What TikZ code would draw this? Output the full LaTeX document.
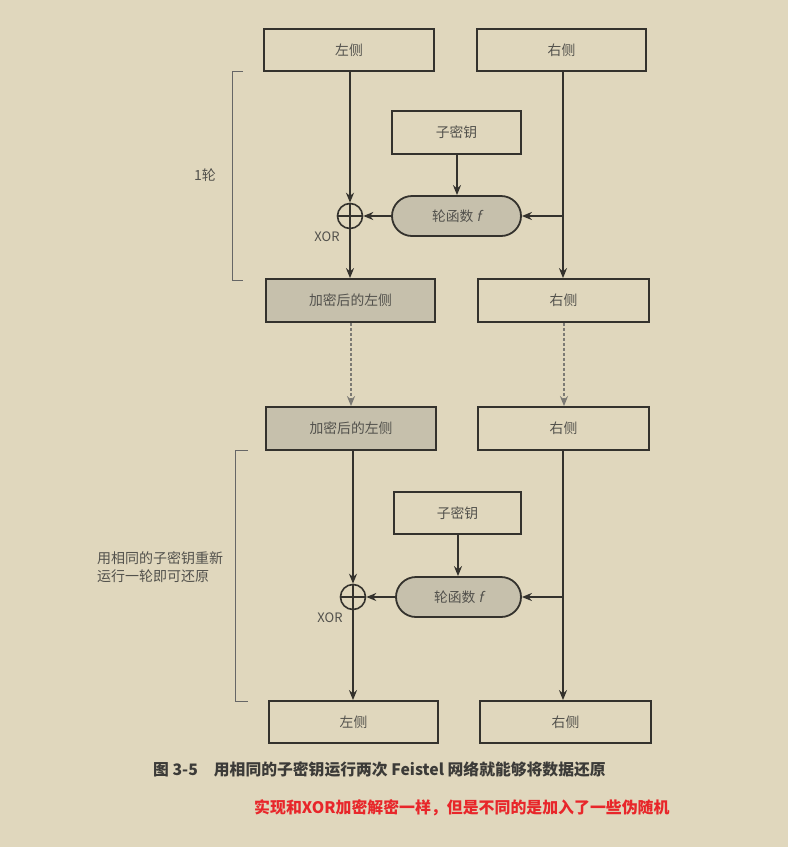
\documentclass[tikz,border=0pt]{standalone}
\usepackage{fontspec}
\setmainfont{Noto Sans CJK SC}
\newfontfamily\slantfont[FakeSlant=0.2]{Noto Sans CJK SC}
\usetikzlibrary{arrows.meta}
\definecolor{paper}{HTML}{E0D7BD}
\definecolor{ink}{HTML}{34322D}
\definecolor{shade}{HTML}{C6C0AC}
\definecolor{dashgray}{HTML}{7C7A74}
\definecolor{capgray}{HTML}{3C3B38}
\definecolor{notered}{HTML}{E8262A}
\tikzset{
  box/.style={draw=ink, line width=1.8pt, minimum height=42pt, inner sep=0pt,
    font=\fontsize{13.8}{16}\selectfont, text=ink!85},
  shadebox/.style={box, fill=shade},
  roundfn/.style={box, fill=shade, rounded corners=20pt, minimum height=40pt},
  xorc/.style={circle, draw=ink, line width=1.6pt, minimum size=25pt, inner sep=0pt},
  arr/.style={draw=ink, line width=1.8pt, -{Stealth[length=10pt,width=8pt]}},
  dasharr/.style={draw=dashgray, line width=2pt, dash pattern=on 3pt off 2pt,
    -{Stealth[length=10pt,width=8pt,fill=dashgray]}},
  bracket/.style={draw=gray!80!black, line width=0.8pt},
  sidetext/.style={font=\fontsize{14}{18}\selectfont, text=ink!85, align=left, inner sep=0pt},
  xorlabel/.style={font=\fontsize{13}{15}\selectfont, text=ink!85, inner sep=0pt}
}
\begin{document}
\begin{tikzpicture}[x=1pt,y=-1pt]
  \fill[paper] (0,0) rectangle (788,847);
  \useasboundingbox (0,0) rectangle (788,847);

  % ---- first round ----
  \node[box, minimum width=170pt] (L0) at (349,50) {左侧};
  \node[box, minimum width=169pt] (R0) at (561.5,50) {右侧};
  \node[box, minimum width=129pt, minimum height=43pt] (K1) at (456.5,132.5) {子密钥};
  \node[roundfn, minimum width=129pt] (F1) at (456.5,216) {轮函数 {\slantfont f}};
  \node[xorc] (X1) at (350,216) {};
  \draw[ink, line width=1.6pt] (X1.north) -- (X1.south) (X1.west) -- (X1.east);
  \node[xorlabel] (XL1) at (327,237) {XOR};
  \node[shadebox, minimum width=169pt, minimum height=43pt] (M1) at (350.5,300.5) {加密后的左侧};
  \node[box, minimum width=171pt, minimum height=43pt] (N1) at (563.5,300.5) {右侧};
  \coordinate (r1) at (563,216);

  \draw[arr] (L0.south -| X1) -- (X1.north);
  \draw[arr] (X1.south) -- (X1 |- M1.north);
  \draw[arr] ([xshift=0.5pt]K1.south) -- ([xshift=0.5pt]K1.south |- F1.north);
  \draw[arr] (F1.west) -- (X1.east);
  \draw[arr] (R0.south -| r1) -- (r1 |- N1.north);
  \draw[arr] (r1) -- (F1.east);

  \draw[bracket] (243,71) -- (232,71) -- (232,280) -- (243,280);
  \node[sidetext] (round1) at (205,175) {1轮};

  % ---- hand-over between the rounds ----
  \node[shadebox, minimum width=170pt, minimum height=43pt] (M2) at (351,428.5) {加密后的左侧};
  \node[box, minimum width=171pt, minimum height=43pt] (N2) at (563.5,428.5) {右侧};
  \draw[dasharr] ([xshift=0.5pt]M1.south) -- ([xshift=0.5pt]M1.south |- M2.north);
  \draw[dasharr] ([xshift=0.5pt]N1.south) -- ([xshift=0.5pt]N1.south |- N2.north);

  % ---- second round with the same subkey ----
  \node[box, minimum width=127pt] (K2) at (457.5,513) {子密钥};
  \node[roundfn, minimum width=125pt] (F2) at (458.5,597) {轮函数 {\slantfont f}};
  \node[xorc] (X2) at (353,597) {};
  \draw[ink, line width=1.6pt] (X2.north) -- (X2.south) (X2.west) -- (X2.east);
  \node[xorlabel] (XL2) at (330,618) {XOR};
  \node[box, minimum width=169pt] (L3) at (353.5,722) {左侧};
  \node[box, minimum width=171pt] (R3) at (565.5,722) {右侧};
  \coordinate (r2) at (563,597);

  \draw[arr] (M2.south -| X2) -- (X2.north);
  \draw[arr] (X2.south) -- (X2 |- L3.north);
  \draw[arr] ([xshift=0.5pt]K2.south) -- ([xshift=0.5pt]K2.south |- F2.north);
  \draw[arr] (F2.west) -- (X2.east);
  \draw[arr] (N2.south -| r2) -- (r2 |- R3.north);
  \draw[arr] (r2) -- (F2.east);

  \draw[bracket] (248,450) -- (235,450) -- (235,701) -- (248,701);
  \node[sidetext, anchor=west] (round2) at (97,567) {用相同的子密钥重新\\运行一轮即可还原};

  % ---- caption and note ----
  \node[anchor=west, inner sep=0pt, text=capgray, font=\fontsize{15.8}{17}\selectfont\bfseries]
    (cap) at (153,769) {图 3-5\hspace{16pt}用相同的子密钥运行两次 Feistel 网络就能够将数据还原};
  \node[anchor=west, inner sep=0pt, text=notered, font=\fontsize{15.9}{17}\selectfont\bfseries]
    (note) at (254,808) {实现和XOR加密解密一样，但是不同的是加入了一些伪随机};
\end{tikzpicture}
\end{document}
